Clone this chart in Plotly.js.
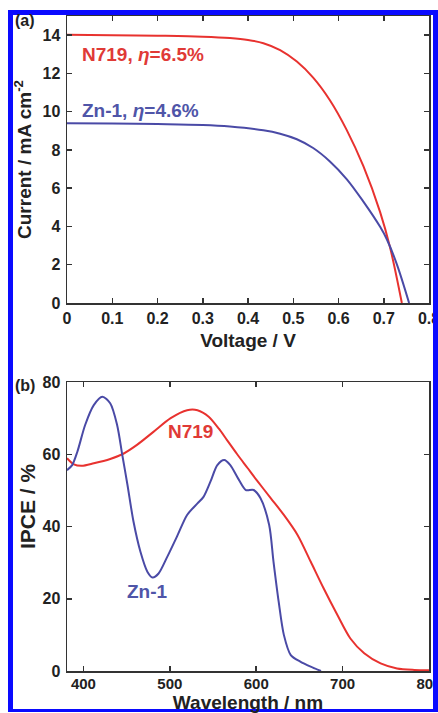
<!DOCTYPE html>
<html><head><meta charset="utf-8">
<script src="https://cdn.plot.ly/plotly-3.0.1.min.js"></script>
<style>html,body{margin:0;padding:0;background:#fff;}#chart{width:438px;height:713px;}</style>
</head><body><div id="chart"></div>
<script>
// (a) J-V curves
const voltageN719 = [0, 0.1, 0.2, 0.3, 0.36, 0.4, 0.434, 0.471, 0.508, 0.544, 0.581, 0.618, 0.655, 0.692, 0.714, 0.740];
const currentN719 = [14.02, 14.0, 13.97, 13.92, 13.85, 13.75, 13.58, 13.22, 12.62, 11.78, 10.60, 9.05, 7.15, 4.75, 2.90, 0];
const voltageZn1 = [0, 0.1, 0.2, 0.3, 0.36, 0.434, 0.471, 0.508, 0.544, 0.581, 0.618, 0.655, 0.692, 0.707, 0.729, 0.756];
const currentZn1 = [9.40, 9.38, 9.35, 9.30, 9.22, 9.03, 8.85, 8.56, 8.10, 7.40, 6.48, 5.30, 3.98, 3.32, 2.02, 0];
// (b) IPCE spectra
const wavelengthZn1 = [381, 387, 393, 402, 412, 422, 431, 439, 445, 451, 458, 466, 474, 480, 487, 497, 509, 520, 532, 539, 547, 555, 563, 570, 580, 588, 597, 605, 615, 620, 626, 632, 640, 651, 663, 675];
const ipceZn1 = [55.6, 57.0, 60.7, 68.1, 73.6, 75.9, 74.1, 68.1, 59.8, 51.5, 41.3, 33.0, 27.5, 25.9, 27.0, 31.6, 37.6, 43.2, 46.4, 48.2, 52.4, 57.0, 58.4, 57.0, 52.9, 50.1, 50.1, 47.8, 40.4, 30.3, 19.2, 10.0, 4.4, 2.6, 1.2, 0];
const wavelengthN719 = [381, 389, 398, 412, 431, 445, 462, 481, 501, 520, 532, 545, 557, 566, 578, 590, 601, 617, 632, 648, 663, 678, 694, 709, 725, 744, 763, 783, 800];
const ipceN719 = [58.9, 57.2, 56.8, 57.5, 58.7, 60.0, 62.6, 66.2, 70.0, 72.2, 72.2, 70.4, 67.0, 64.0, 60.0, 56.2, 52.7, 47.8, 43.2, 37.6, 30.3, 22.9, 15.5, 9.0, 4.9, 2.1, 0.7, 0.3, 0.2];
// tick labels
const voltageTicks = [0, 0.1, 0.2, 0.3, 0.4, 0.5, 0.6, 0.7, 0.8];
const voltageTickText = ['0', '0.1', '0.2', '0.3', '0.4', '0.5', '0.6', '0.7', '0.8'];
const currentTicks = [0, 2, 4, 6, 8, 10, 12, 14];
const wavelengthTicks = [400, 500, 600, 700, 800];
const ipceTicks = [0, 20, 40, 60, 80];

const FONT = 'Arial, "Liberation Sans", Helvetica, sans-serif';
const RED = '#e8322f', BLUE = '#4a4aa6';
const RED_T = '#e03a36', BLUE_T = '#4f55a8';

function ax(extra) {
  return Object.assign({
    showline: true, linecolor: '#333', linewidth: 1.5, mirror: 'ticks',
    ticks: 'inside', ticklen: 5, tickwidth: 1.5, tickcolor: '#333',
    showgrid: false, zeroline: false, ticklabeloverflow: 'allow',
    tickfont: {family: FONT, size: 16, color: '#222', weight: 'bold'}
  }, extra);
}
function ttl(text, standoff, size) {
  return {text: text, standoff: standoff, font: {family: FONT, size: size || 19, color: '#222', weight: 'bold'}};
}

const traces = [
  {x: voltageN719, y: currentN719, xaxis: 'x', yaxis: 'y', mode: 'lines', line: {color: RED, width: 2, shape: 'spline', smoothing: 1}, name: 'N719'},
  {x: voltageZn1, y: currentZn1, xaxis: 'x', yaxis: 'y', mode: 'lines', line: {color: BLUE, width: 2, shape: 'spline', smoothing: 1}, name: 'Zn-1'},
  {x: wavelengthN719, y: ipceN719, xaxis: 'x2', yaxis: 'y2', mode: 'lines', line: {color: RED, width: 2, shape: 'spline', smoothing: 0.8}, name: 'N719'},
  {x: wavelengthZn1, y: ipceZn1, xaxis: 'x2', yaxis: 'y2', mode: 'lines', line: {color: BLUE, width: 2, shape: 'spline', smoothing: 0.8}, name: 'Zn-1'}
];

function band(x0, x1, y0, y1) {
  return {type: 'rect', xref: 'paper', yref: 'paper', x0: x0, x1: x1, y0: y0, y1: y1,
          fillcolor: '#0a0aff', line: {width: 0}, layer: 'above'};
}
// pixel -> paper helpers (plot area 67..429 x, 16..671 y)
const px = p => (p - 67) / 362;
const py = p => (671 - p) / 655;

const layout = {
  width: 438, height: 713,
  margin: {l: 67, r: 9, t: 16, b: 42},
  paper_bgcolor: '#fff', plot_bgcolor: '#fff',
  showlegend: false,
  xaxis: ax({domain: [0, 1], anchor: 'y', range: [0, 0.8], tickvals: voltageTicks, ticktext: voltageTickText, title: ttl('Voltage / V', 8)}),
  yaxis: ax({domain: [py(303), 1], anchor: 'x', range: [0, 15], tickvals: currentTicks, ticklabelstandoff: 2, title: ttl('Current / mA cm<sup>-2</sup>', 6)}),
  xaxis2: ax({domain: [0, 1], anchor: 'y2', range: [381, 800], tickvals: wavelengthTicks, ticklabelstandoff: -2,
              tickfont: {family: FONT, size: 15, color: '#222', weight: 'bold'}, title: ttl('Wavelength / nm', 7)}),
  yaxis2: ax({domain: [0, py(382)], anchor: 'x2', range: [0, 80], tickvals: ipceTicks, ticklabelstandoff: 2}),
  annotations: [
    {xref: 'paper', yref: 'paper', x: px(27), y: py(506), xanchor: 'center', yanchor: 'middle', showarrow: false, textangle: -90,
     text: 'IPCE / %', font: {family: FONT, size: 21, color: '#222', weight: 'bold'}},
    {xref: 'x', yref: 'y', x: 0.029, y: 13.0, xanchor: 'left', yanchor: 'middle', showarrow: false,
     text: 'N719, <i>η</i>=6.5%', font: {family: FONT, size: 19, color: RED_T, weight: 'bold'}},
    {xref: 'x', yref: 'y', x: 0.029, y: 10.05, xanchor: 'left', yanchor: 'middle', showarrow: false,
     text: 'Zn-1, <i>η</i>=4.6%', font: {family: FONT, size: 19, color: BLUE_T, weight: 'bold'}},
    {xref: 'x2', yref: 'y2', x: 524, y: 66.2, xanchor: 'center', yanchor: 'middle', showarrow: false,
     text: 'N719', font: {family: FONT, size: 19, color: RED_T, weight: 'bold'}},
    {xref: 'x2', yref: 'y2', x: 474, y: 21.9, xanchor: 'center', yanchor: 'middle', showarrow: false,
     text: 'Zn-1', font: {family: FONT, size: 19, color: BLUE_T, weight: 'bold'}},
    {xref: 'paper', yref: 'paper', x: px(13), y: py(20), xanchor: 'left', yanchor: 'middle', showarrow: false,
     text: '(a)', font: {family: FONT, size: 16, color: '#222', weight: 'bold'}},
    {xref: 'paper', yref: 'paper', x: px(13), y: py(385), xanchor: 'left', yanchor: 'middle', showarrow: false,
     text: '(b)', font: {family: FONT, size: 16, color: '#222', weight: 'bold'}}
  ],
  shapes: [
    band(px(8), px(13), py(712), py(10)),
    band(px(8), px(438), py(15), py(10)),
    band(px(433), px(438), py(712), py(10)),
    band(px(8), px(438), py(712), py(709))
  ]
};

Plotly.newPlot('chart', traces, layout, {staticPlot: true, displayModeBar: false});
</script>
</body></html>
